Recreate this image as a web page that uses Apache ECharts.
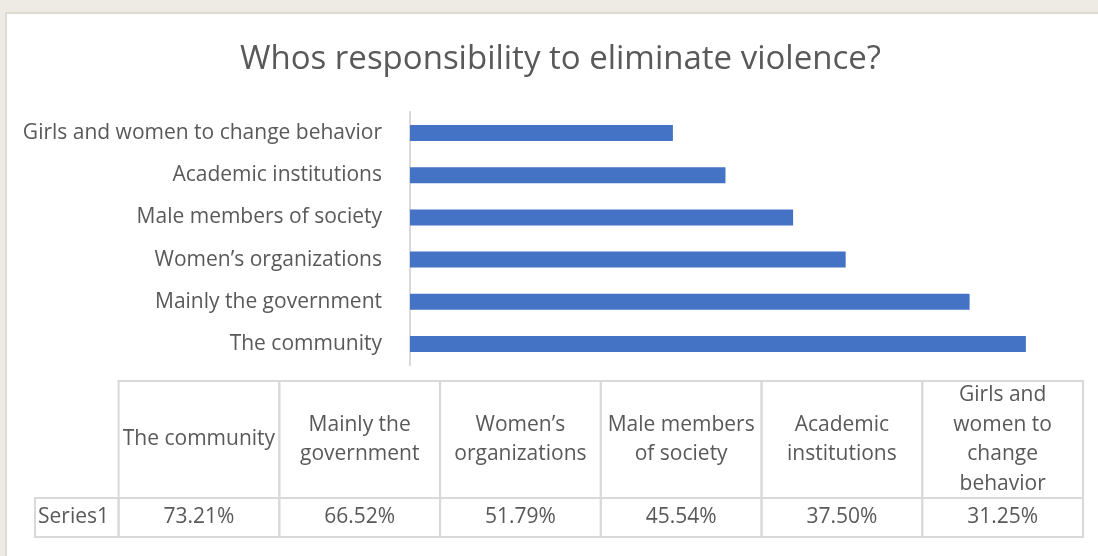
<!DOCTYPE html>
<html>
<head>
<meta charset="utf-8">
<title>Whos responsibility to eliminate violence?</title>
<script src="https://cdn.jsdelivr.net/npm/echarts@6/dist/echarts.min.js"></script>
<style>
  html, body { margin: 0; padding: 0; width: 1098px; height: 556px; overflow: hidden; background: #eeeae4; }
  #card { position: absolute; left: 5px; top: 12px; width: 1100px; height: 560px; background: #ffffff; border: 2px solid #dddad5; box-sizing: border-box; }
  #chart { position: absolute; left: 0; top: 0; width: 1098px; height: 556px; }
</style>
</head>
<body>
<div id="card"></div>
<div id="chart"></div>
<script>
// Survey answers, listed from the largest share down
const categories = [
  'The community',
  'Mainly the government',
  'Women\u2019s organizations',
  'Male members of society',
  'Academic institutions',
  'Girls and women to change behavior'
];
// Header text of the data table (wrapped as it is printed in the cells)
const tableHeaders = [
  'The community',
  'Mainly the\ngovernment',
  'Women\u2019s\norganizations',
  'Male members\nof society',
  'Academic\ninstitutions',
  'Girls and\nwomen to\nchange\nbehavior'
];
const seriesName = 'Series1';
const shares = [0.7321, 0.6652, 0.5179, 0.4554, 0.3750, 0.3125];

const TEXT = '#595959';
const LINE = '#d9d9d9';
const FONT = '"Open Sans", sans-serif';
const LABEL_SIZE = 21;

const pct = v => (v * 100).toFixed(2) + '%';

// Table cells: [x0, x1, y0, y1, text, align]; each column is one unit wide,
// the header row is three units tall and the value row one unit.
const tableCells = [];
categories.forEach((c, i) => {
  tableCells.push([i, i + 1, 1, 4, tableHeaders[i], 'center']);
  tableCells.push([i, i + 1, 0, 1, pct(shares[i]), 'center']);
});
tableCells.push([-0.52, 0, 0, 1, seriesName, 'left']);

const chart = echarts.init(document.getElementById('chart'), null, { renderer: 'canvas' });

chart.setOption({
  animation: false,
  backgroundColor: 'transparent',
  title: {
    text: 'Whos responsibility to eliminate violence?',
    left: 235,
    top: 38,
    textStyle: { fontFamily: FONT, fontSize: 33, fontWeight: 'normal', color: TEXT }
  },
  grid: [
    { left: 410, top: 112, width: 673, height: 253, containLabel: false },
    { left: 35, top: 381, width: 1048, height: 156, containLabel: false }
  ],
  xAxis: [
    { gridIndex: 0, type: 'value', min: 0, max: 0.8, show: false },
    { gridIndex: 1, type: 'value', min: -0.52, max: 6, show: false }
  ],
  yAxis: [
    {
      gridIndex: 0,
      type: 'category',
      data: categories,
      axisLine: { show: true, lineStyle: { color: LINE, width: 2 } },
      axisTick: { show: false },
      axisLabel: { color: TEXT, fontFamily: FONT, fontSize: LABEL_SIZE, margin: 28 }
    },
    { gridIndex: 1, type: 'value', min: 0, max: 4, show: false }
  ],
  series: [
    {
      name: seriesName,
      type: 'bar',
      xAxisIndex: 0,
      yAxisIndex: 0,
      data: shares,
      barWidth: 16,
      itemStyle: { color: '#4472c4' }
    },
    {
      type: 'custom',
      xAxisIndex: 1,
      yAxisIndex: 1,
      data: tableCells,
      encode: { x: [0, 1], y: [2, 3] },
      renderItem: function (params, api) {
        const x0 = api.value(0), x1 = api.value(1);
        const y0 = api.value(2), y1 = api.value(3);
        const text = tableCells[params.dataIndex][4];
        const align = tableCells[params.dataIndex][5];
        const tl = api.coord([x0, y1]);
        const br = api.coord([x1, y0]);
        const w = br[0] - tl[0];
        const h = br[1] - tl[1];
        return {
          type: 'group',
          children: [
            {
              type: 'rect',
              shape: { x: tl[0], y: tl[1], width: w, height: h },
              style: { fill: 'rgba(0,0,0,0)', stroke: LINE, lineWidth: 2 }
            },
            {
              type: 'text',
              style: {
                text: text,
                x: align === 'left' ? tl[0] + 3 : tl[0] + w / 2,
                y: tl[1] + h / 2,
                align: align,
                verticalAlign: 'middle',
                fontFamily: FONT,
                fontSize: LABEL_SIZE,
                lineHeight: 29.7,
                fill: TEXT
              }
            }
          ]
        };
      }
    }
  ]
});
</script>
</body>
</html>
